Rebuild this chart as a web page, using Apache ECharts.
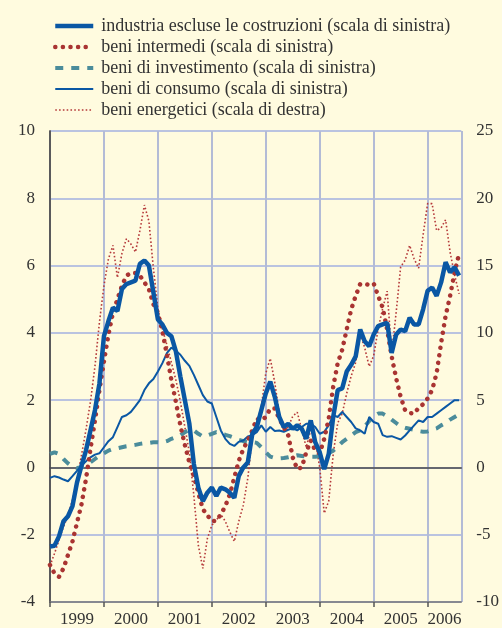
<!DOCTYPE html>
<html lang="it">
<head>
  <meta charset="utf-8">
  <title>Prezzi alla produzione</title>
  <script src="https://cdn.jsdelivr.net/npm/echarts@6/dist/echarts.min.js"></script>
  <style>
    html, body { margin: 0; padding: 0; background: #fffbdf; }
  </style>
</head>
<body>
<div id="main" style="width: 502px;height:628px;"></div>
<script type="text/javascript">
// serie mensili da gennaio 1999
var anni = ['1999', '2000', '2001', '2002', '2003', '2004', '2005', '2006'];
var nomi = [
  'industria escluse le costruzioni (scala di sinistra)',
  'beni intermedi (scala di sinistra)',
  'beni di investimento (scala di sinistra)',
  'beni di consumo (scala di sinistra)',
  'beni energetici (scala di destra)'
];
var industria = [
  -2.35, -2.33, -2.05, -1.6, -1.45, -1.15, -0.45, 0.05, 0.5, 1.1, 1.7, 2.5,
  3.9, 4.35, 4.75, 4.65, 5.3, 5.45, 5.5, 5.55, 6.05, 6.15, 6.0, 5.2,
  4.4, 4.25, 4.0, 3.9, 3.45, 2.7, 2.0, 1.3, 0.1, -0.6, -1.0, -0.75,
  -0.6, -0.85, -0.6, -0.65, -0.75, -0.9, -0.25, 0.0, 0.15, 1.0, 1.2, 1.7,
  2.2, 2.55, 2.1, 1.5, 1.2, 1.3, 1.15, 1.25, 1.15, 0.85, 1.4, 0.75,
  0.45, -0.05, 0.4, 1.5, 2.3, 2.35, 2.85, 3.05, 3.3, 4.1, 3.75, 3.6,
  3.95, 4.2, 4.25, 4.3, 3.4, 3.95, 4.1, 4.05, 4.45, 4.25, 4.25, 4.7,
  5.25, 5.35, 5.1, 5.5, 6.1, 5.8, 5.95, 5.7
];
var intermedi = [
  -2.9, -3.15, -3.25, -3.0, -2.6, -2.2, -1.65, -1.1, -0.35, 0.55, 1.4, 2.3,
  3.15, 3.95, 4.6, 5.0, 5.4, 5.7, 5.78, 5.78, 5.7, 5.5, 5.3, 4.85,
  4.6, 4.05, 3.35, 2.6, 1.95, 1.25, 0.67, 0.15, -0.26, -0.76, -1.24, -1.42,
  -1.6, -1.58, -1.4, -1.15, -0.8, -0.3, 0.2, 0.55, 0.8, 1.1, 1.45, 1.4,
  1.5, 1.75, 1.75, 1.45, 1.2, 0.95, 0.3, -0.05, 0.0, 0.45, 0.8, 0.5,
  0.42, 0.85, 1.45, 2.4, 3.1, 3.5, 4.1, 4.7, 5.1, 5.45, 5.45, 5.43,
  5.47, 5.1, 4.75, 4.1, 3.3, 2.65, 2.1, 1.7, 1.62, 1.6, 1.77, 1.88,
  2.05, 2.3, 2.8, 3.7, 4.5, 5.1, 5.8, 6.35
];
var investimento = [
  0.4, 0.45, 0.4, 0.25, 0.12, 0.02, -0.02, 0.0, 0.08, 0.15, 0.25, 0.35,
  0.42, 0.5, 0.55, 0.57, 0.6, 0.63, 0.65, 0.67, 0.7, 0.72, 0.73, 0.75,
  0.75, 0.74, 0.78, 0.85, 0.9, 0.95, 1.05, 1.12, 1.1, 1.0, 0.92, 0.95,
  1.0, 1.05, 1.0, 0.97, 0.93, 0.88, 0.82, 0.78, 0.75, 0.75, 0.73, 0.6,
  0.45, 0.32, 0.28, 0.27, 0.28, 0.3, 0.33, 0.36, 0.34, 0.32, 0.32, 0.32,
  0.33, 0.36, 0.42, 0.5, 0.62, 0.75, 0.85, 0.95, 1.05, 1.1, 1.22, 1.38,
  1.52, 1.6, 1.6, 1.52, 1.42, 1.32, 1.22, 1.18, 1.15, 1.12, 1.08, 1.06,
  1.07, 1.12, 1.16, 1.25, 1.32, 1.42, 1.5, 1.58
];
var consumo = [
  -0.31, -0.26, -0.3, -0.36, -0.41, -0.26, -0.1, 0.05, 0.18, 0.3, 0.38, 0.42,
  0.6, 0.78, 0.9, 1.2, 1.5, 1.55, 1.65, 1.82, 2.0, 2.3, 2.5, 2.63,
  2.85, 3.1, 3.4, 3.56, 3.47, 3.35, 3.17, 3.02, 2.75, 2.45, 2.15, 1.96,
  1.9, 1.5, 1.1, 0.85, 0.7, 0.64, 0.76, 0.8, 0.92, 0.96, 1.05, 1.25,
  1.06, 1.2, 1.08, 1.1, 1.06, 1.12, 1.16, 1.1, 1.2, 1.3, 1.3, 1.2,
  1.0, 1.06, 1.25, 1.55, 1.5, 1.65, 1.5, 1.35, 1.16, 1.1, 1.0, 1.5,
  1.35, 1.3, 0.96, 0.91, 0.93, 0.88, 0.83, 0.95, 1.1, 1.25, 1.4, 1.35,
  1.5, 1.5, 1.6, 1.7, 1.8, 1.9, 2.0, 2.0
];
var energetici = [
  -7.3, -6.4, -5.4, -4.4, -3.6, -2.4, -0.9, 0.9, 2.8, 4.9, 7.5, 10.8,
  13.5, 15.5, 16.5, 14.1, 15.9, 17.0, 16.6, 16.0, 17.6, 19.5, 18.3, 14.8,
  11.8, 10.3, 9.1, 7.8, 6.5, 4.9, 3.0, 1.1, -2.1, -5.8, -7.5, -5.3,
  -4.3, -3.9, -3.5, -4.0, -4.8, -5.5, -4.0, -2.8, -0.8, 2.3, 3.3, 4.5,
  7.0, 8.1, 6.3, 4.0, 2.6, 3.0, 3.8, 4.1, 2.8, 1.5, 2.8, 2.0,
  0.0, -3.4, -2.5, 1.0, 3.3, 4.0, 5.5, 6.8, 7.8, 9.9, 8.9, 7.5,
  8.3, 10.3, 11.8, 13.1, 8.5, 11.5, 14.9, 15.4, 16.5, 15.5, 14.8, 17.3,
  19.6, 19.6, 17.6, 17.8, 18.4, 16.0, 14.3, 12.9
];
var tickSinistra = [-4, 10, 2];
var tickDestra = [-10, 25, 5];

function punti(arr) {
  return arr.map(function (v, i) { return [i, v]; });
}

var myChart = echarts.init(document.getElementById('main'));
var font = 'Liberation Serif';

// stili delle linee (usati sia dalle serie sia dalla legenda)
var stili = [
  { width: 4.5, color: '#0a57a4' },
  { width: 4.5, type: [0.1, 7.5], cap: 'round', color: '#a93432' },
  { width: 4, type: [8, 8], color: '#4b8c9b' },
  { width: 2, color: '#0a57a4' },
  { width: 1.6, type: [1.6, 2.2], color: '#b5393a' }
];

var option = {
  backgroundColor: '#fffbdf',
  animation: false,
  textStyle: { fontFamily: font },
  grid: { left: 50, right: 34, top: 131, bottom: 21 },
  legend: {
    orient: 'vertical',
    left: 48,
    top: 12,
    itemWidth: 38,
    itemHeight: 14,
    itemGap: 3,
    data: nomi.map(function (n, i) { return { name: n, lineStyle: stili[i] }; }),
    itemStyle: { opacity: 0 },
    textStyle: { fontFamily: font, fontSize: 18, color: '#333', padding: [0, 0, 0, 3] }
  },
  xAxis: [
    {
      type: 'value',
      min: 0,
      max: 91.5,
      interval: 12,
      axisLine: { onZero: true, lineStyle: { color: '#4a4a4a', width: 1.5 } },
      axisTick: { show: false },
      axisLabel: { show: false },
      splitLine: { show: true, lineStyle: { color: '#b3bbd6', width: 2 } }
    },
    {
      type: 'value',
      position: 'bottom',
      min: 0,
      max: 91.5,
      axisLine: { onZero: false, lineStyle: { color: '#777', width: 1.5 } },
      axisTick: {
        show: true, inside: false, length: 5,
        customValues: [0, 12, 24, 36, 48, 60, 72, 84],
        lineStyle: { color: '#555', width: 1.5 }
      },
      axisLabel: {
        show: true,
        customValues: [6, 18, 30, 42, 54, 66, 78, 87.75],
        formatter: function (v) { return anni[Math.floor(v / 12)]; },
        margin: 9,
        fontFamily: font,
        fontSize: 17,
        color: '#333'
      },
      splitLine: { show: false }
    }
  ],
  yAxis: [
    {
      type: 'value',
      min: tickSinistra[0],
      max: tickSinistra[1],
      interval: tickSinistra[2],
      axisLine: { show: true, lineStyle: { color: '#555', width: 1.5 } },
      axisTick: { show: false },
      axisLabel: { margin: 15, fontFamily: font, fontSize: 17, color: '#333' },
      splitLine: { show: true, lineStyle: { color: '#a3b1e0', width: 1.5 } }
    },
    {
      type: 'value',
      position: 'right',
      min: tickDestra[0],
      max: tickDestra[1],
      interval: tickDestra[2],
      axisLine: { show: true, lineStyle: { color: '#555', width: 1.5 } },
      axisTick: { show: false },
      axisLabel: { margin: 15, fontFamily: font, fontSize: 17, color: '#333' },
      splitLine: { show: false }
    }
  ],
  series: [
    {
      name: nomi[4],
      type: 'line',
      yAxisIndex: 1,
      symbol: 'none',
      data: punti(energetici),
      color: stili[4].color,
      lineStyle: stili[4],
      z: 2
    },
    {
      name: nomi[2],
      type: 'line',
      symbol: 'none',
      data: punti(investimento),
      color: stili[2].color,
      lineStyle: stili[2],
      z: 3
    },
    {
      name: nomi[3],
      type: 'line',
      symbol: 'none',
      data: punti(consumo),
      color: stili[3].color,
      lineStyle: stili[3],
      z: 4
    },
    {
      name: nomi[1],
      type: 'line',
      symbol: 'none',
      data: punti(intermedi),
      color: stili[1].color,
      lineStyle: stili[1],
      z: 5
    },
    {
      name: nomi[0],
      type: 'line',
      symbol: 'none',
      data: punti(industria),
      color: stili[0].color,
      lineStyle: stili[0],
      z: 6
    }
  ]
};

myChart.setOption(option);
</script>
</body>
</html>
